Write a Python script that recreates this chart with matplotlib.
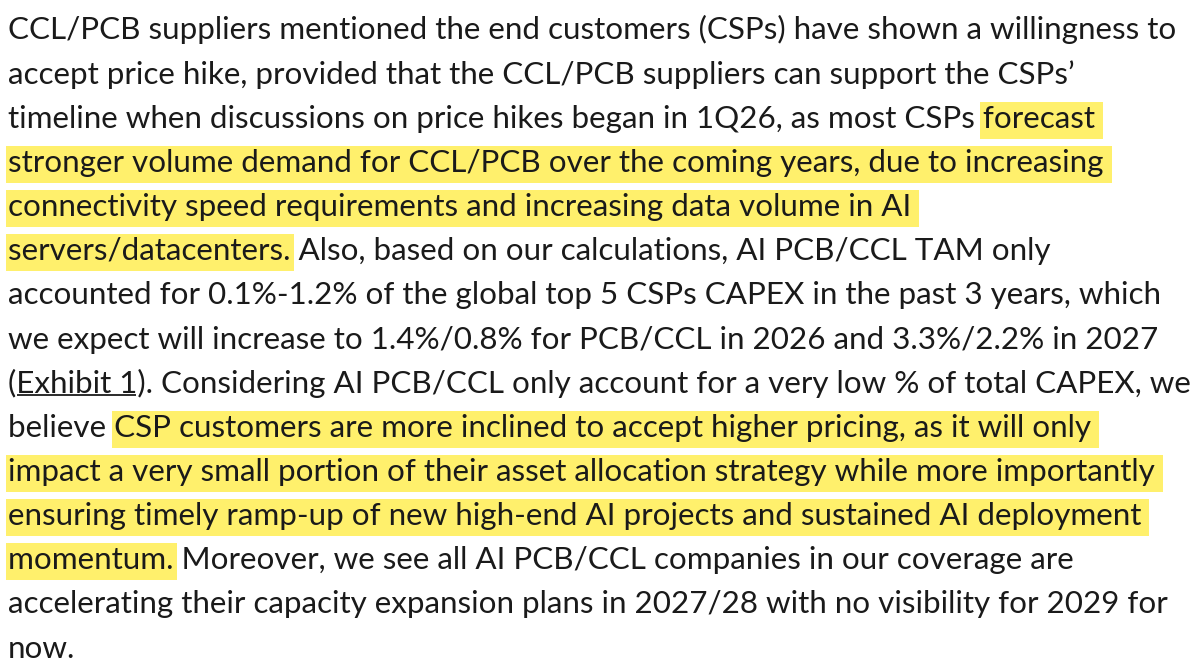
import matplotlib
matplotlib.use("Agg")
import matplotlib.pyplot as plt
from matplotlib.patches import Rectangle

# ---- content ----
lines = [
    "CCL/PCB suppliers mentioned the end customers (CSPs) have shown a willingness to",
    "accept price hike, provided that the CCL/PCB suppliers can support the CSPs\u2019",
    "timeline when discussions on price hikes began in 1Q26, as most CSPs forecast",
    "stronger volume demand for CCL/PCB over the coming years, due to increasing",
    "connectivity speed requirements and increasing data volume in AI",
    "servers/datacenters. Also, based on our calculations, AI PCB/CCL TAM only",
    "accounted for 0.1%-1.2% of the global top 5 CSPs CAPEX in the past 3 years, which",
    "we expect will increase to 1.4%/0.8% for PCB/CCL in 2026 and 3.3%/2.2% in 2027",
    "(Exhibit 1). Considering AI PCB/CCL only account for a very low % of total CAPEX, we",
    "believe CSP customers are more inclined to accept higher pricing, as it will only",
    "impact a very small portion of their asset allocation strategy while more importantly",
    "ensuring timely ramp-up of new high-end AI projects and sustained AI deployment",
    "momentum. Moreover, we see all AI PCB/CCL companies in our coverage are",
    "accelerating their capacity expansion plans in 2027/28 with no visibility for 2029 for",
    "now.",
]
# (line index, highlighted substring)
highlights = [
    (2, "forecast"),
    (3, "stronger volume demand for CCL/PCB over the coming years, due to increasing"),
    (4, "connectivity speed requirements and increasing data volume in AI"),
    (5, "servers/datacenters."),
    (9, "CSP customers are more inclined to accept higher pricing, as it will only"),
    (10, "impact a very small portion of their asset allocation strategy while more importantly"),
    (11, "ensuring timely ramp-up of new high-end AI projects and sustained AI deployment"),
    (12, "momentum."),
]
underlines = [(8, "Exhibit 1")]

# ---- layout ----
W, H = 1200, 671
X0 = 8
BASE0 = 39.5
PITCH = 44.15
# approximate right ends of the first 14 lines in the reference layout (pixels), used to fit the font size
LINE_ENDS = [1169, 1083, 1098, 1106, 925, 1048, 1165, 1155, 1182, 1100, 1178, 1160, 1067, 1178]
FONT = ["Lato", "DejaVu Sans"]
TEXT_COLOR = "#1a1a1a"
HL_COLOR = "#fff06c"

fig = plt.figure(figsize=(W / 100, H / 100), dpi=100)
ax = fig.add_axes([0, 0, 1, 1])
ax.set_xlim(0, W)
ax.set_ylim(H, 0)
ax.axis("off")
fig.canvas.draw()
renderer = fig.canvas.get_renderer()


def measure(s, size):
    t = ax.text(0, 0, s + "|", fontsize=size, family=FONT)
    w = t.get_window_extent(renderer).width
    t.remove()
    t2 = ax.text(0, 0, "|", fontsize=size, family=FONT)
    w2 = t2.get_window_extent(renderer).width
    t2.remove()
    return w - w2


ref = 20.0
ws = [measure(l, ref) for l in lines[:len(LINE_ENDS)]]
tw = [e - X0 for e in LINE_ENDS]
size = ref * sum(a * b for a, b in zip(ws, tw)) / sum(a * a for a in ws)

for i, line in enumerate(lines):
    base = BASE0 + i * PITCH
    ax.text(X0, base, line, fontsize=size, family=FONT, color=TEXT_COLOR,
            ha="left", va="baseline", zorder=3)

for i, sub in highlights:
    line = lines[i]
    k = line.index(sub)
    x1 = X0 + measure(line[:k], size) - 2.5
    end = k + len(sub)
    x2 = X0 + measure(line[:end], size)
    x2 += 8 if end == len(line) else 3
    base = BASE0 + i * PITCH
    ax.add_patch(Rectangle((x1, base - 26), x2 - x1, 37, facecolor=HL_COLOR,
                           edgecolor="none", zorder=1))

for i, sub in underlines:
    line = lines[i]
    k = line.index(sub)
    x1 = X0 + measure(line[:k], size) + 1
    x2 = X0 + measure(line[:k + len(sub)], size) - 1
    base = BASE0 + i * PITCH
    ax.plot([x1, x2], [base + 2.5, base + 2.5], color=TEXT_COLOR, lw=1.3, zorder=3,
            solid_capstyle="butt")

fig.savefig("out.png", dpi=100, facecolor="white")
